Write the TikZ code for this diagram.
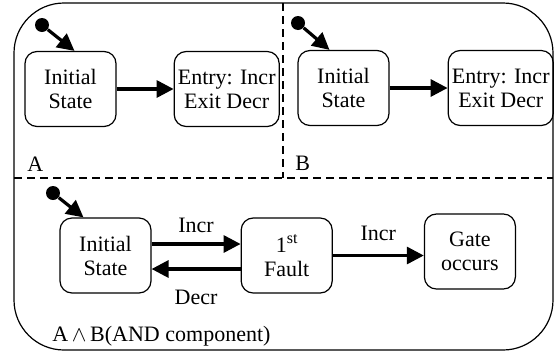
\documentclass[tikz,border=0pt]{standalone}
\usepackage{fontspec}
\setmainfont{Liberation Serif}
\usepackage{tikz}
\usetikzlibrary{
  arrows.meta,
  positioning
}
\tikzset{
  scstate/.style={
    draw, rounded corners=6pt, line width=0.6pt, minimum width=45.5pt,
    minimum height=37.5pt, align=center, inner sep=0.5pt,
    font=\fontsize{11}{12}\selectfont
  },
  scentry/.style={scstate, minimum width=52.5pt},
  scdot/.style={circle, fill=black, minimum size=7pt, inner sep=0pt},
  sctrans/.style={-{Triangle[length=8.5pt, width=8.5pt]}, line width=1.6pt},
  scregion/.style={line width=1pt, dash pattern=on 4pt off 2.5pt},
  sclabel/.style={font=\fontsize{11}{12}\selectfont, inner sep=0pt}
}
\begin{document}
\begin{tikzpicture}[x=0.5pt, y=-0.5pt]
  \useasboundingbox (0,0) rectangle (556,354);
  % AND component with its regions
  \draw[line width=0.6pt, rounded corners=25pt] (14,3) rectangle (553,350);
  \draw[scregion] (283,3) -- (283,178);
  \draw[scregion] (14,178) -- (553,178);
  % region A
  \node[scstate] (ainit) at (70.5,89) {Initial\\State};
  \node[scentry, right=28.5pt of ainit] (aentry) {Entry: Incr\\Exit Decr};
  \node[scdot] (adot) at (42,25) {};
  \draw[sctrans] (adot) -- ([xshift=2pt]ainit.north);
  \draw[sctrans] (ainit) -- (aentry);
  \node[sclabel, anchor=base west] (alabel) at (27,171) {A};
  % region B
  \node[scstate] (binit) at (343.5,88) {Initial\\State};
  \node[scentry, right=29pt of binit] (bentry) {Entry: Incr\\Exit Decr};
  \node[scdot] (bdot) at (298,23) {};
  \draw[sctrans] (bdot) -- ([xshift=-7pt]binit.north);
  \draw[sctrans] (binit) -- (bentry);
  \node[sclabel, anchor=base west] (blabel) at (295,170) {B};
  % A and B
  \node[scstate] (cinit) at (105.5,255.5) {Initial\\State};
  \node[scstate, right=44.5pt of cinit] (cfault) {1\raisebox{0.4em}{\fontsize{8}{8}\selectfont st}\\Fault};
  \node[scstate, right=45.5pt of cfault, yshift=2pt] (cgate) {Gate\\occurs};
  \node[scdot] (cdot) at (53,193) {};
  \draw[sctrans] (cdot) -- ([xshift=-11pt]cinit.north);
  \draw[sctrans] ([yshift=5.75pt]cinit.east) -- ([yshift=5.75pt]cfault.west)
    node[sclabel, midway, above=5pt] {Incr};
  \draw[sctrans] ([yshift=-6.75pt]cfault.west) -- ([yshift=-6.75pt]cinit.east)
    node[sclabel, midway, below=9.5pt] {Decr};
  \draw[sctrans] (cfault.east) -- (cfault.east -| cgate.west)
    node[sclabel, midway, above=6.5pt] {Incr};
  \node[sclabel, anchor=base west] (clabel) at (52,341) {A\,$\wedge$\,B(AND component)};
\end{tikzpicture}
\end{document}
